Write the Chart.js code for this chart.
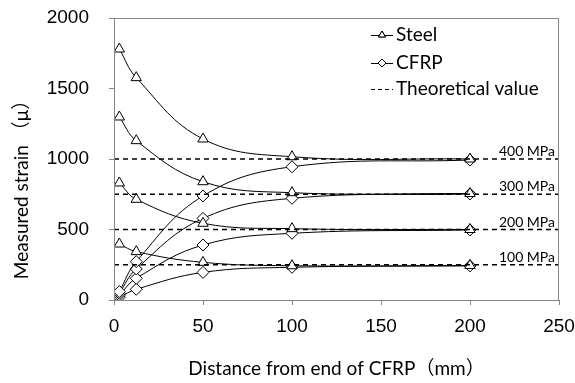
<!DOCTYPE html>
<html>
<head>
<meta charset="utf-8">
<script src="https://cdn.jsdelivr.net/npm/chart.js@4.4.0/dist/chart.umd.min.js"></script>
<style>
  html, body { margin: 0; padding: 0; background: #fff; }
  #wrap { width: 575px; height: 383px; }
</style>
</head>
<body>
<div id="wrap"><canvas id="strainChart" width="575" height="383"></canvas></div>
<script>
// distances from end of CFRP (mm)
const distances = [3, 12.5, 50, 100, 200];

// measured strain, steel side
const steel400 = [1780, 1577, 1142, 1016, 1000];
const steel300 = [1298, 1130, 839, 761, 755];
const steel200 = [830, 714, 544, 506, 500];
const steel100 = [397, 343, 267, 243, 245];

// measured strain, CFRP side
const cfrp400 = [60, 272, 738, 945, 993];
const cfrp300 = [48, 220, 579, 721, 752];
const cfrp200 = [35, 154, 390, 473, 497];
const cfrp100 = [20, 76, 196, 232, 242];

// theoretical values
const theoryX = [0, 250];
const theoryLevels = [1000, 750, 500, 250];
const stressLabels = ['400 MPa', '300 MPa', '200 MPa', '100 MPa'];

const xTicks = [0, 50, 100, 150, 200, 250];
const yTicks = [0, 500, 1000, 1500, 2000];

const FONT = "Lato, 'Noto Sans CJK JP', sans-serif";
const TICK_FONT = "'Liberation Sans', Arial, sans-serif";

function pts(xs, ys) {
    return xs.map((x, i) => ({ x: x, y: ys[i] }));
}

function measured(values, marker) {
    return {
        data: pts(distances, values),
        borderColor: '#000',
        borderWidth: 1,
        pointStyle: marker,
        pointRadius: 6,
        pointBackgroundColor: '#fff',
        pointBorderColor: '#000',
        pointBorderWidth: 1,
        tension: 0.4,
        fill: false
    };
}

const datasets = [];
theoryLevels.forEach(level => {
    datasets.push({
        data: pts(theoryX, theoryX.map(() => level)),
        borderColor: '#000',
        borderWidth: 1.3,
        borderDash: [5, 4],
        pointRadius: 0,
        fill: false
    });
});
[steel400, steel300, steel200, steel100].forEach(s => datasets.push(measured(s, 'triangle')));
[cfrp400, cfrp300, cfrp200, cfrp100].forEach(s => datasets.push(measured(s, 'rectRot')));

// frame + stress labels + y title + legend inside plot
const decorations = {
    id: 'decorations',
    afterDraw(chart) {
        const { ctx, chartArea, scales } = chart;
        ctx.save();
        ctx.strokeStyle = '#868686';
        ctx.lineWidth = 1;
        ctx.strokeRect(chartArea.left + 0.5, chartArea.top + 0.5,
            chartArea.right - chartArea.left - 1, chartArea.bottom - chartArea.top);

        ctx.fillStyle = '#000';
        ctx.font = "14px " + FONT;
        ctx.textAlign = 'right';
        ctx.textBaseline = 'alphabetic';
        theoryLevels.forEach((level, i) => {
            ctx.fillText(stressLabels[i], chartArea.right - 4, scales.y.getPixelForValue(level) - 3);
        });

        // y axis title
        ctx.save();
        ctx.translate(22, 185);
        ctx.rotate(-Math.PI / 2);
        ctx.font = "19px " + FONT;
        ctx.textAlign = 'center';
        ctx.textBaseline = 'middle';
        ctx.fillText('Measured strain （μ）', 0, 0);
        ctx.restore();

        // legend
        const lx = 371, tx = 396;
        const rows = [
            { y: 35, label: 'Steel', style: 'triangle' },
            { y: 63, label: 'CFRP', style: 'rectRot' },
            { y: 89, label: 'Theoretical value', style: 'dash' }
        ];
        ctx.font = "19px " + FONT;
        ctx.textAlign = 'left';
        ctx.textBaseline = 'middle';
        rows.forEach(r => {
            ctx.beginPath();
            ctx.strokeStyle = '#000';
            ctx.lineWidth = 1;
            if (r.style === 'dash') ctx.setLineDash([4, 3]);
            ctx.moveTo(lx, r.y + 0.5);
            ctx.lineTo(lx + 22, r.y + 0.5);
            ctx.stroke();
            ctx.setLineDash([]);
            if (r.style !== 'dash') {
                Chart.helpers.drawPoint(ctx, {
                    pointStyle: r.style, radius: 4, borderWidth: 1
                }, lx + 11, r.y);
                ctx.fillStyle = '#fff';
                ctx.fill();
                ctx.stroke();
            }
            ctx.fillStyle = '#000';
            ctx.fillText(r.label, tx, r.y);
        });
        ctx.restore();
    }
};

function noPadding(axis) {
    axis.paddingTop = 0;
    axis.paddingBottom = 0;
    axis.paddingLeft = 0;
    axis.paddingRight = 0;
}

new Chart(document.getElementById('strainChart'), {
    type: 'line',
    data: { datasets: datasets },
    plugins: [decorations],
    options: {
        responsive: false,
        animation: false,
        layout: { padding: { top: 18, right: 16, left: 0, bottom: 0 } },
        plugins: { legend: { display: false }, tooltip: { enabled: false } },
        scales: {
            x: {
                type: 'linear',
                min: 0,
                max: 250,
                afterFit(axis) { axis.height = 83; noPadding(axis); },
                afterBuildTicks(axis) { axis.ticks = xTicks.map(v => ({ value: v })); },
                border: { color: '#868686' },
                grid: { drawOnChartArea: false, tickLength: 5, color: '#868686' },
                ticks: {
                    color: '#000', font: { family: TICK_FONT, size: 19 }, padding: 10,
                    callback: v => String(v)
                },
                title: {
                    display: true,
                    text: 'Distance from end of CFRP（mm）',
                    color: '#000',
                    font: { family: FONT, size: 19 },
                    padding: { top: 0, bottom: 3 }
                }
            },
            y: {
                min: 0,
                max: 2000,
                afterFit(axis) { axis.width = 114; noPadding(axis); },
                afterBuildTicks(axis) { axis.ticks = yTicks.map(v => ({ value: v })); },
                border: { color: '#868686' },
                grid: { drawOnChartArea: false, tickLength: 5, color: '#868686' },
                ticks: {
                    color: '#000', font: { family: TICK_FONT, size: 19 }, padding: 20,
                    callback: v => String(v)
                }
            }
        }
    }
});
</script>
</body>
</html>
